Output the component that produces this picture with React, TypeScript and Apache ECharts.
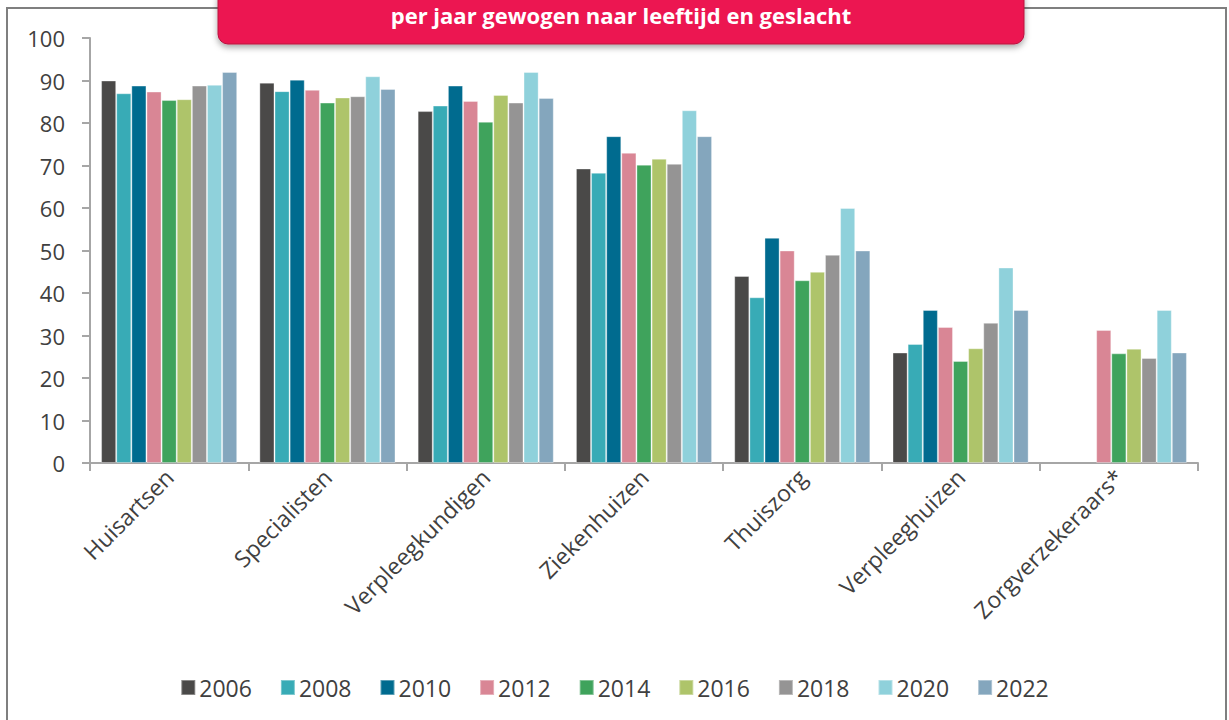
import React, { useEffect, useRef } from "react";
import * as echarts from "echarts";

const categories = ["Huisartsen", "Specialisten", "Verpleegkundigen", "Ziekenhuizen", "Thuiszorg", "Verpleeghuizen", "Zorgverzekeraars*"];
const years = ["2006", "2008", "2010", "2012", "2014", "2016", "2018", "2020", "2022"];
const colors = ["#4a4948", "#38abb6", "#006b8f", "#d98695", "#3fa35c", "#aec46a", "#959494", "#8fd1db", "#84a6bd"];

const huisartsen = [90, 87, 88.8, 87.4, 85.4, 85.6, 88.8, 89, 92];
const specialisten = [89.5, 87.5, 90.2, 87.8, 84.8, 86, 86.3, 91, 88];
const verpleegkundigen = [82.8, 84.1, 88.8, 85.2, 80.3, 86.6, 84.8, 92, 85.9];
const ziekenhuizen = [69.3, 68.3, 76.9, 73, 70.2, 71.6, 70.4, 83, 76.9];
const thuiszorg = [44, 39, 53, 50, 43, 45, 49, 60, 50];
const verpleeghuizen = [26, 28, 36, 32, 24, 27, 33, 46, 36];
const zorgverzekeraars = [null, null, null, 31.3, 25.8, 26.9, 24.7, 36, 26];

const yTicks = { min: 0, max: 100, interval: 10 };
const title = "per jaar gewogen naar leeftijd en geslacht";

export default function App() {
  const ref = useRef<HTMLDivElement>(null);
  useEffect(() => {
    document.body.style.margin = "0";
    const chart = echarts.init(ref.current!, null, { renderer: "svg" });
    const rows = [huisartsen, specialisten, verpleegkundigen, ziekenhuizen, thuiszorg, verpleeghuizen, zorgverzekeraars];
    const font = "'Open Sans', 'Liberation Sans', sans-serif";
    const series = years.map((y, i) => ({
      name: y,
      type: "bar",
      data: rows.map((r) => r[i]),
      itemStyle: { color: colors[i], borderColor: "rgba(255,255,255,0.35)", borderWidth: 1 },
      barGap: "0%",
      barCategoryGap: "14%",
    }));
    chart.setOption({
      animation: false,
      backgroundColor: "#ffffff",
      textStyle: { fontFamily: font },
      grid: { left: 90, right: 31, top: 38, bottom: 257, containLabel: false },
      xAxis: {
        type: "category",
        data: categories,
        axisLine: { lineStyle: { color: "#a6a6a6", width: 2 } },
        axisTick: { show: true, alignWithLabel: false, length: 8, lineStyle: { color: "#a6a6a6", width: 2 } },
        axisLabel: { rotate: 45, fontSize: 23, color: "#404040", margin: 10, fontFamily: font, interval: 0 },
      },
      yAxis: {
        type: "value",
        min: yTicks.min,
        max: yTicks.max,
        interval: yTicks.interval,
        axisLine: { show: true, lineStyle: { color: "#a6a6a6", width: 2 } },
        axisTick: { show: true, length: 8, lineStyle: { color: "#a6a6a6", width: 2 } },
        axisLabel: { fontSize: 22, color: "#404040", margin: 25, fontFamily: font },
        splitLine: { show: false },
      },
      legend: {
        data: years,
        bottom: 16,
        left: "center",
        icon: "rect",
        itemWidth: 14,
        itemHeight: 15,
        itemGap: 28,
        textStyle: { fontSize: 23, color: "#404040", fontFamily: font, padding: [0, 0, 0, -1] },
      },
      graphic: [
        {
          type: "rect",
          shape: { x: 7, y: 8, width: 1219, height: 730 },
          style: { fill: "none", stroke: "#7f7f7f", lineWidth: 2 },
          silent: true,
          z: 0,
        },
        {
          type: "rect",
          shape: { x: 218, y: -12, width: 806, height: 56, r: 10 },
          style: {
            fill: "#ec1651",
            stroke: "#b8103e",
            lineWidth: 1,
            shadowBlur: 6,
            shadowOffsetY: 3,
            shadowColor: "rgba(0,0,0,0.35)",
          },
          z: 10,
        },
        {
          type: "text",
          x: 621,
          y: 15,
          style: {
            text: title,
            fill: "#ffffff",
            font: `bold 22px ${font}`,
            align: "center",
            verticalAlign: "middle",
          },
          z: 11,
        },
      ],
      series,
    });
    return () => chart.dispose();
  }, []);
  return <div ref={ref} style={{ width: 1229, height: 720 }} />;
}
